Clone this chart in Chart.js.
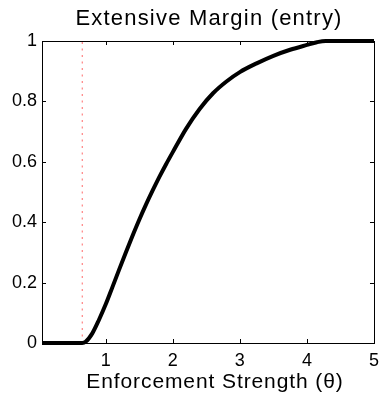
<!DOCTYPE html>
<html>
<head>
<meta charset="utf-8">
<script src="https://cdn.jsdelivr.net/npm/chart.js@4/dist/chart.umd.min.js"></script>
<style>
  html, body { margin: 0; padding: 0; background: #ffffff; }
  #wrap { width: 386px; height: 395px; }
</style>
</head>
<body>
<div id="wrap"><canvas id="c" width="386" height="395"></canvas></div>
<script>
// ---- data ----
const thetaValues = [0.05, 0.40, 0.65, 0.70, 0.80, 0.90, 1.00, 1.10, 1.20, 1.30, 1.40, 1.50, 1.60, 1.70, 1.80, 1.90, 2.00, 2.20, 2.40, 2.60, 2.80, 3.00, 3.25, 3.50, 3.75, 4.00, 4.15, 4.28, 4.60, 5.00];
const entryValues = [0, 0, 0, 0.004, 0.032, 0.077, 0.128, 0.185, 0.243, 0.300, 0.355, 0.408, 0.458, 0.505, 0.550, 0.592, 0.632, 0.710, 0.775, 0.827, 0.866, 0.897, 0.926, 0.951, 0.971, 0.987, 0.996, 1, 1, 1];
const thresholdTheta = [0.65, 0.65];
const thresholdY = [0, 1];
const xTicks = [1, 2, 3, 4, 5];
const xTickLabels = ['1', '2', '3', '4', '5'];
const yTicks = [0, 0.2, 0.4, 0.6, 0.8, 1];
const yTickLabels = ['0', '0.2', '0.4', '0.6', '0.8', '1'];
const chartTitle = 'Extensive Margin (entry)';
const xTitle = 'Enforcement Strength (θ)';

const FONT = "'Liberation Sans', Arial, Helvetica, sans-serif";

const curvePoints = thetaValues.map((t, i) => ({ x: t, y: entryValues[i] }));
const thresholdPoints = thresholdTheta.map((t, i) => ({ x: t, y: thresholdY[i] }));

function withSpacing(obj, method, spacing, dx) {
  if (!obj || obj['_sp_' + method]) return;
  const orig = obj[method].bind(obj);
  obj[method] = function (...args) {
    const c = this.ctx || (this.chart && this.chart.ctx);
    c.save();
    c.letterSpacing = spacing;
    if (dx) c.translate(dx, 0);
    const r = orig(...args);
    c.restore();
    return r;
  };
  obj['_sp_' + method] = true;
}

const textSpacing = {
  id: 'textSpacing',
  afterUpdate(chart) {
    withSpacing(chart.titleBlock, 'draw', '1.2px', 1);
    withSpacing(chart.scales.x, 'drawTitle', '0.9px', 7);
  }
};

const boxAndTicks = {
  id: 'boxAndTicks',
  afterDatasetsDraw(chart) {
    const { ctx, chartArea: a, scales } = chart;
    ctx.save();
    ctx.strokeStyle = '#000';
    ctx.lineWidth = 1;
    ctx.beginPath();
    xTicks.forEach(v => {
      const px = Math.round(scales.x.getPixelForValue(v)) + 0.5;
      ctx.moveTo(px, a.bottom); ctx.lineTo(px, a.bottom - 4);
      ctx.moveTo(px, a.top); ctx.lineTo(px, a.top + 4);
    });
    yTicks.forEach(v => {
      const py = Math.round(scales.y.getPixelForValue(v)) + 0.5;
      ctx.moveTo(a.left, py); ctx.lineTo(a.left + 4, py);
      ctx.moveTo(a.right, py); ctx.lineTo(a.right - 4, py);
    });
    ctx.stroke();
    ctx.strokeRect(Math.round(a.left) + 0.5, Math.round(a.top) + 0.5,
                   Math.round(a.right - a.left), Math.round(a.bottom - a.top));
    ctx.restore();
  }
};

new Chart(document.getElementById('c'), {
  type: 'line',
  data: {
    datasets: [
      {
        label: 'entry',
        data: curvePoints,
        borderColor: '#000000',
        borderWidth: 4,
        pointRadius: 0,
        cubicInterpolationMode: 'monotone',
        fill: false,
        order: 0,
        clip: 4
      },
      {
        label: 'threshold',
        data: thresholdPoints,
        borderColor: 'rgba(255,0,0,0.6)',
        borderWidth: 1,
        borderDash: [2, 4.5],
        pointRadius: 0,
        fill: false,
        order: 1
      }
    ]
  },
  options: {
    responsive: false,
    animation: false,
    devicePixelRatio: 1,
    layout: { padding: { left: 0, right: 6, top: 0, bottom: 0 } },
    plugins: {
      legend: { display: false },
      tooltip: { enabled: false },
      title: {
        display: true,
        text: chartTitle,
        fullSize: false,
        color: '#000',
        font: { family: FONT, size: 22, weight: 'normal', lineHeight: 1.2 },
        padding: { top: 6.2, bottom: 8.4 }
      }
    },
    scales: {
      x: {
        type: 'linear',
        min: 0.05,
        max: 5,
        afterBuildTicks(scale) { scale.ticks = xTicks.map(v => ({ value: v })); },
        afterFit(scale) { scale.height = 52; },
        grid: { display: false, drawTicks: false },
        border: { display: true, color: '#000', width: 1 },
        ticks: {
          color: '#000',
          padding: 7,
          maxRotation: 0,
          font: { family: FONT, size: 18 },
          callback(v) { const i = xTicks.indexOf(v); return i >= 0 ? xTickLabels[i] : ''; }
        },
        title: {
          display: true,
          text: xTitle,
          color: '#000',
          font: { family: FONT, size: 21, lineHeight: 1.2 },
          padding: { top: 0, bottom: 0 }
        }
      },
      y: {
        type: 'linear',
        min: 0,
        max: 1,
        afterBuildTicks(scale) { scale.ticks = yTicks.map(v => ({ value: v })); },
        afterFit(scale) { scale.width = 42; },
        grid: { display: false, drawTicks: false },
        border: { display: true, color: '#000', width: 1 },
        ticks: {
          color: '#000',
          padding: 5,
          font: { family: FONT, size: 18 },
          callback(v) { const i = yTicks.findIndex(t => Math.abs(t - v) < 1e-9); return i >= 0 ? yTickLabels[i] : ''; }
        }
      }
    }
  },
  plugins: [textSpacing, boxAndTicks]
});
</script>
</body>
</html>
